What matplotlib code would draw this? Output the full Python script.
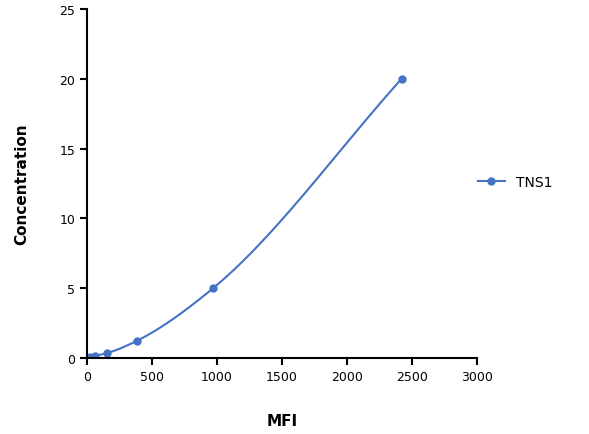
import numpy as np
import matplotlib
matplotlib.use("Agg")
import matplotlib.pyplot as plt

mfi = [10, 23, 62, 154, 388, 970, 2420]
conc = [0.0, 0.05, 0.15, 0.35, 1.25, 5.0, 20.0]
series_name = "TNS1"
color = "#4472C4"

def pchip(x, y, xs):
    x = np.asarray(x, float); y = np.asarray(y, float)
    h = np.diff(x); d = np.diff(y) / h
    n = len(x); m = np.zeros(n)
    for k in range(1, n - 1):
        if d[k-1] * d[k] > 0:
            w1 = 2*h[k] + h[k-1]; w2 = h[k] + 2*h[k-1]
            m[k] = (w1 + w2) / (w1/d[k-1] + w2/d[k])
    m[0] = d[0]; m[-1] = d[-1]
    out = np.empty_like(xs)
    for i, xv in enumerate(xs):
        k = min(max(np.searchsorted(x, xv) - 1, 0), n - 2)
        t = (xv - x[k]) / h[k]
        h00 = 2*t**3 - 3*t**2 + 1; h10 = t**3 - 2*t**2 + t
        h01 = -2*t**3 + 3*t**2; h11 = t**3 - t**2
        out[i] = h00*y[k] + h10*h[k]*m[k] + h01*y[k+1] + h11*h[k]*m[k+1]
    return out

fig = plt.figure(figsize=(5.89, 4.35), dpi=100)
ax = fig.add_axes([87/589, 1 - 359/435, 390/589, 349/435])
xs = np.linspace(mfi[0], mfi[-1], 400)
ax.plot(xs, pchip(mfi, conc, xs), color=color, lw=1.5)
ax.plot(mfi, conc, 'o', color=color, ms=5)
ax.plot([], [], '-o', color=color, ms=5, lw=1.5, label=series_name)
ax.set_xlim(0, 3000); ax.set_ylim(0, 25)
ax.set_xticks(range(0, 3001, 500)); ax.set_yticks(range(0, 26, 5))
for s in ['top', 'right']:
    ax.spines[s].set_visible(False)
for s in ['left', 'bottom']:
    ax.spines[s].set_linewidth(1.5)
ax.tick_params(width=1.5, length=5, labelsize=9)
ax.set_xlabel("MFI", fontsize=11, fontweight='bold', labelpad=22)
ax.set_ylabel("Concentration", fontsize=11, fontweight='bold', labelpad=22)
h, l = ax.get_legend_handles_labels()
fig.legend(h[-1:], l[-1:], loc='center left', bbox_to_anchor=(465/589, 1 - 183/435), frameon=False, fontsize=10)
fig.savefig("out.png", dpi=100)
